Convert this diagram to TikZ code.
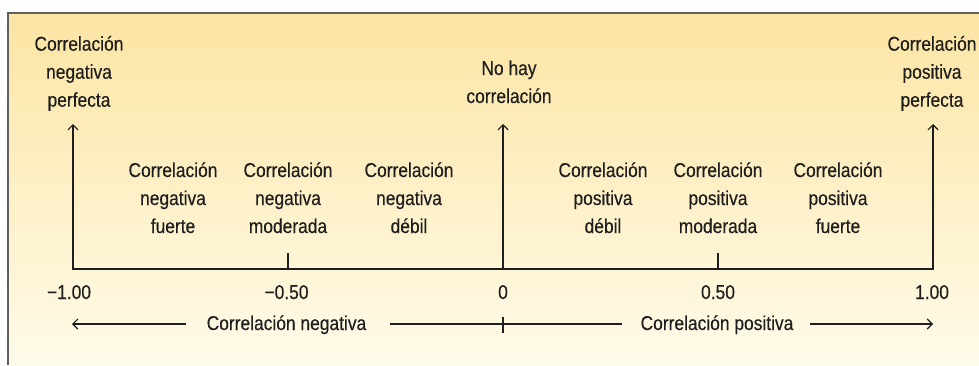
\documentclass[tikz,border=0pt]{standalone}
\usepackage{fontspec}
\setmainfont{Liberation Sans}[FakeStretch=0.87,FakeBold=0.3]
\usetikzlibrary{arrows.meta}
\definecolor{bgtop}{RGB}{252,229,163}
\definecolor{bgbot}{RGB}{255,251,234}
\definecolor{framec}{RGB}{95,95,95}
\definecolor{ink}{RGB}{30,30,30}
\tikzset{
  lbl/.style={font=\fontsize{20}{28}\selectfont, align=center, text=ink, inner sep=0pt, anchor=base},
  axline/.style={draw=ink, line width=1.6pt},
  thinline/.style={draw=ink, line width=1.2pt},
  upar/.style={-{Straight Barb[length=5pt,width=10pt,line width=1.2pt]}},
}
\begin{document}
\begin{tikzpicture}[x=1pt,y=-1pt]
\useasboundingbox (0,0) rectangle (979,365);
\fill[white] (0,0) rectangle (979,365);
\shade[top color=bgtop, bottom color=bgbot] (8,13) rectangle (979,365);
\draw[framec, line width=2.6pt] (8,365) -- (8,13) -- (979,13);

% axis coordinates
\coordinate (m1) at (73,269);
\coordinate (mh) at (288,269);
\coordinate (z) at (503,269);
\coordinate (ph) at (718,269);
\coordinate (p1) at (933,269);
\coordinate (m1t) at (73,124);
\coordinate (zt) at (503,124);
\coordinate (p1t) at (933,124);
\coordinate (mht) at (288,253);
\coordinate (pht) at (718,253);

\draw[axline, line cap=rect] (m1) -- (p1);
\draw[axline, upar] (m1) -- (m1t);
\draw[axline, upar] (z) -- (zt);
\draw[axline, upar] (p1) -- (p1t);
\draw[axline] (mh) -- (mht);
\draw[axline] (ph) -- (pht);

% top labels (anchor base = baseline of last line)
\node[lbl] (tneg) at (79,106.7) {Correlación\\negativa\\perfecta};
\node[lbl] (tzero) at (509,103) {No hay\\correlación};
\node[lbl] (tpos) at (932,106.7) {Correlación\\positiva\\perfecta};

% middle labels
\node[lbl] (nf) at (173,233) {Correlación\\negativa\\fuerte};
\node[lbl] (nm) at (288,233) {Correlación\\negativa\\moderada};
\node[lbl] (nd) at (409,233) {Correlación\\negativa\\débil};
\node[lbl] (pd) at (603,233) {Correlación\\positiva\\débil};
\node[lbl] (pm) at (718,233) {Correlación\\positiva\\moderada};
\node[lbl] (pf) at (838,233) {Correlación\\positiva\\fuerte};

% numbers
\node[lbl] (vm1) at (69,299) {−1.00};
\node[lbl] (vmh) at (286.5,299) {−0.50};
\node[lbl] (vz) at (503,299) {0};
\node[lbl] (vph) at (718,299) {0.50};
\node[lbl] (vp1) at (932,299) {1.00};

% bottom row
\node[lbl] (cneg) at (286.5,330) {Correlación negativa};
\node[lbl] (cpos) at (717,330) {Correlación positiva};
\coordinate (la) at (72,324);
\coordinate (lb) at (186,324);
\coordinate (ma) at (390,324);
\coordinate (mb) at (622,324);
\coordinate (ra) at (810,324);
\coordinate (rb) at (933,324);
\coordinate (tka) at (503,317);
\coordinate (tkb) at (503,333);
\draw[thinline, upar] (lb) -- (la);
\draw[thinline] (ma) -- (mb);
\draw[thinline] (tka) -- (tkb);
\draw[thinline, upar] (ra) -- (rb);
\end{tikzpicture}
\end{document}
